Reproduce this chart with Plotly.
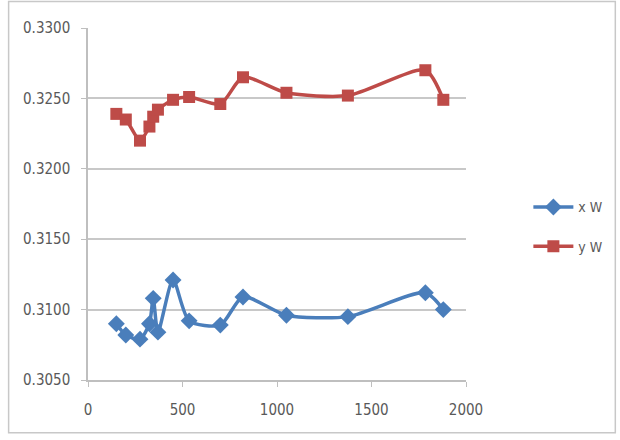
import plotly.graph_objects as go

# Measurement positions (shared by both chromaticity coordinates)
x_vals = [150, 200, 275, 325, 345, 370, 450, 535, 700, 820, 1050, 1375, 1785, 1880]

# Chromaticity coordinates of white
x_w = [0.3090, 0.3082, 0.3079, 0.3090, 0.3108, 0.3084, 0.3121, 0.3092,
       0.3089, 0.3109, 0.3096, 0.3095, 0.3112, 0.3100]
y_w = [0.3239, 0.3235, 0.3220, 0.3230, 0.3237, 0.3242, 0.3249, 0.3251,
       0.3246, 0.3265, 0.3254, 0.3252, 0.3270, 0.3249]

series_names = ["x W", "y W"]
y_ticks = [0.3050, 0.3100, 0.3150, 0.3200, 0.3250, 0.3300]
x_ticks = [0, 500, 1000, 1500, 2000]

font_family = "DejaVu Sans Condensed, Liberation Sans, Arial"
grey_text = "#595959"

fig = go.Figure()
fig.add_trace(go.Scatter(
    x=x_vals, y=x_w, name=series_names[0], legendgroup="a",
    mode="lines+markers",
    line=dict(color="#4A7EBB", width=3.5, shape="spline", smoothing=0.7),
    marker=dict(symbol="diamond", size=13, color="#4A7EBB"),
))
fig.add_trace(go.Scatter(
    x=x_vals, y=y_w, name=series_names[1], legendgroup="b",
    mode="lines+markers",
    line=dict(color="#BE4B48", width=3.5, shape="spline", smoothing=0.7),
    marker=dict(symbol="square", size=12, color="#BE4B48"),
))

fig.update_layout(
    width=620, height=440,
    margin=dict(l=88, r=154, t=28, b=60),
    paper_bgcolor="white", plot_bgcolor="white",
    font=dict(family=font_family, size=15, color=grey_text),
    legend=dict(x=1.165, y=0.435, xanchor="left", yanchor="middle",
                tracegroupgap=18, itemwidth=40,
                font=dict(size=14, color=grey_text), bgcolor="rgba(0,0,0,0)"),
    xaxis=dict(range=[0, 2000], tickvals=x_ticks, showgrid=False,
               showline=True, linecolor="#BFBFBF", linewidth=1.5,
               ticks="outside", ticklen=5, tickcolor="#BFBFBF",
               ticklabelstandoff=10,
               zeroline=False, tickfont=dict(size=15)),
    yaxis=dict(range=[0.3050, 0.3300], tickvals=y_ticks, tickformat=".4f",
               showgrid=True, gridcolor="#C8C8C8", gridwidth=1.5,
               showline=True, linecolor="#BFBFBF", linewidth=1.5,
               ticks="outside", ticklen=5, tickcolor="#BFBFBF",
               ticklabelstandoff=8,
               zeroline=False, tickfont=dict(size=15)),
    shapes=[dict(type="rect", xref="paper", yref="paper",
                 x0=-0.21, x1=1.395, y0=-0.15, y1=1.075,
                 line=dict(color="#C8C8C8", width=1.5))],
)

fig.write_html("out.html")
